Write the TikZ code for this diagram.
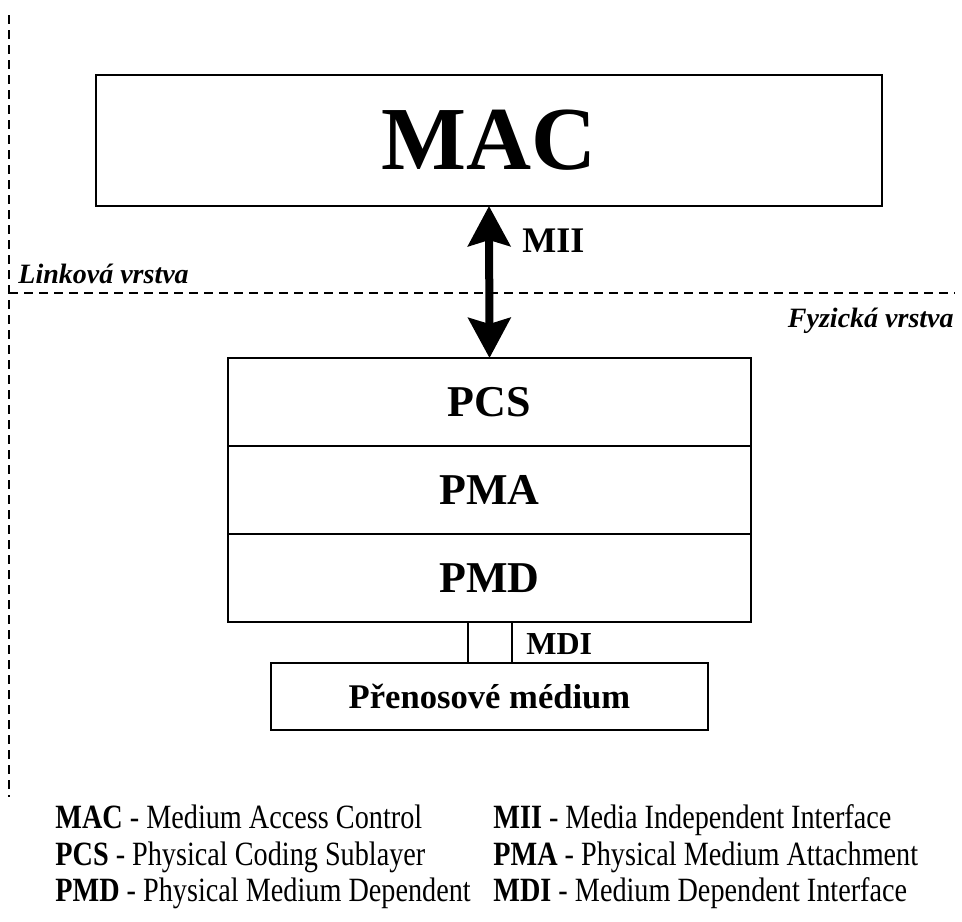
\documentclass[tikz,border=0pt]{standalone}
\usepackage{fontspec}
\setmainfont{Liberation Serif}
\newfontfamily\legendfont[FakeStretch=0.83]{Liberation Serif}
\usetikzlibrary{positioning, arrows.meta}
\tikzstyle{layer} = [rectangle, draw, line width=1pt, outer sep=0pt, inner sep=0pt, font=\bfseries]
\tikzstyle{sublayer} = [layer, minimum width=261.5pt, minimum height=44pt, font=\fontsize{22}{26}\selectfont\bfseries]
\tikzstyle{boundary} = [line width=1pt, dash pattern=on 4.5pt off 3pt]
\tikzstyle{arrow} = [line width=4pt, {Stealth[length=20pt, width=21pt, inset=3pt]}-{Stealth[length=20pt, width=21pt, inset=3pt]}]
\tikzstyle{layername} = [inner sep=0pt, font=\fontsize{14}{17}\selectfont\bfseries\itshape]
\tikzstyle{iface} = [inner sep=0pt, anchor=base west, font=\fontsize{18}{21}\selectfont\bfseries]
\tikzstyle{legend} = [inner sep=0pt, anchor=base west, font=\fontsize{17}{20}\selectfont\legendfont]

\begin{document}
\begin{tikzpicture}[x=0.5pt, y=-0.5pt]
    \useasboundingbox (0,0) rectangle (962,921);
    % Layer boundaries
    \coordinate (vtop) at (9,15);
    \coordinate (vbot) at (9,797);
    \coordinate (hleft) at (9,293);
    \coordinate (hright) at (955,293);
    \draw[boundary] (vtop) -- (vbot);
    \draw[boundary] (hleft) -- (hright);
    \node[layername, anchor=base west] (link) at (18,283) {Linková vrstva};
    \node[layername, anchor=base east] (phys) at (954,327) {Fyzická vrstva};

    % MAC layer
    \node[layer, minimum width=393pt, minimum height=65.5pt, font=\fontsize{45}{54}\selectfont\bfseries] (mac) at (489,140.5) {MAC};

    % Physical sublayers
    \node[sublayer] (pcs) at (489.5,402) {PCS};
    \node[sublayer, below=0pt of pcs] (pma) {PMA};
    \node[sublayer, below=0pt of pma] (pmd) {PMD};
    \node[layer, minimum width=22pt, minimum height=20.5pt, below=0pt of pmd] (mdi) {};
    \node[layer, minimum width=218.5pt, minimum height=33.5pt, font=\fontsize{17.3}{21}\selectfont\bfseries, below=0pt of mdi] (medium) {Přenosové médium};

    % Interfaces
    \draw[arrow] (mac.south) -- (pcs.north);
    \node[iface] (mii) at (522,252) {MII};
    \node[iface, font=\fontsize{16}{19}\selectfont\bfseries] (mdilabel) at (526,654) {MDI};

    % Legend
    \node[legend] (lmac) at (55,828) {\textbf{MAC} - Medium Access Control};
    \node[legend] (lpcs) at (55,865) {\textbf{PCS} - Physical Coding Sublayer};
    \node[legend] (lpmd) at (55,901) {\textbf{PMD} - Physical Medium Dependent};
    \node[legend] (lmii) at (493,828) {\textbf{MII} - Media Independent Interface};
    \node[legend] (lpma) at (493,865) {\textbf{PMA} - Physical Medium Attachment};
    \node[legend] (lmdi) at (493,901) {\textbf{MDI} - Medium Dependent Interface};
\end{tikzpicture}
\end{document}
